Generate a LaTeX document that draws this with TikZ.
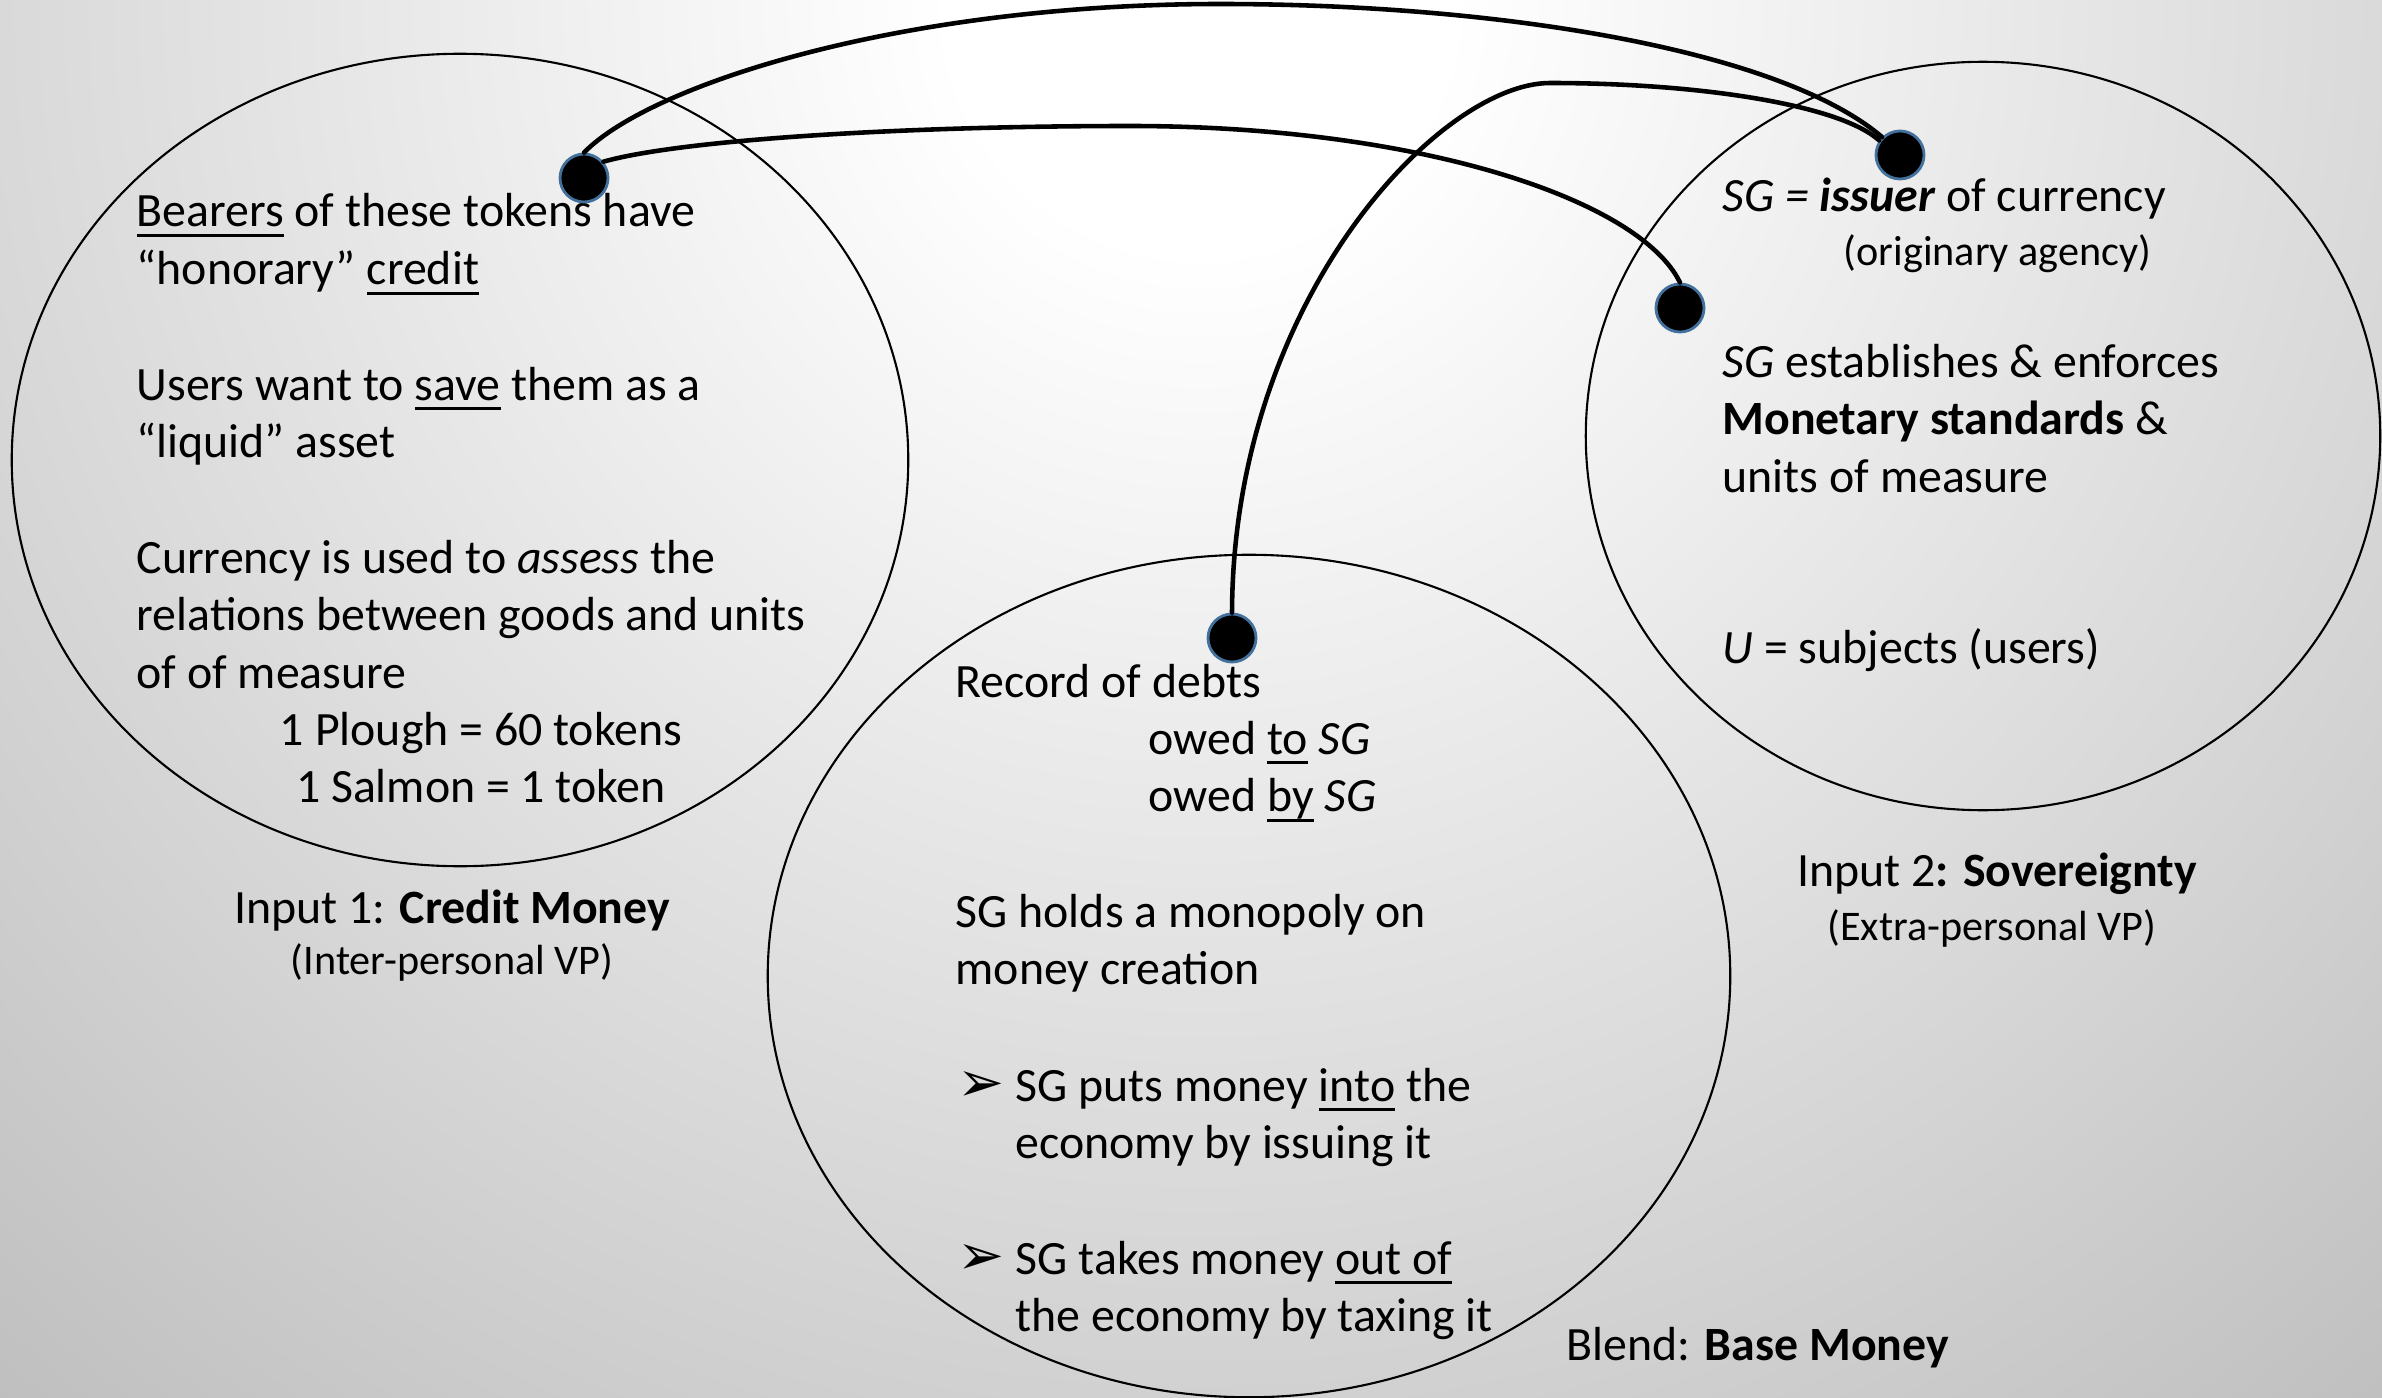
\documentclass[tikz,border=0pt]{standalone}
\usepackage{fontspec}
\setmainfont{Carlito}
\newfontfamily\dingfont{DejaVu Sans}
\usetikzlibrary{shapes.geometric}

\definecolor{dotblue}{HTML}{41719C}
\definecolor{bgedge}{gray}{0.725}
% slide background: white near the top centre, fading to grey outwards
% (25bp corresponds to the radius of the shaded circle)
\pgfdeclareradialshading{slidebg}{\pgfpoint{0bp}{0bp}}{%
  color(0bp)=(white); color(3.125bp)=(white); color(25bp)=(bgedge); color(50bp)=(bgedge)}

% underline at a fixed depth below the baseline
\newsavebox\ulbox
\newcommand\undl[1]{\sbox\ulbox{#1}\rlap{\rule[-2.9pt]{\wd\ulbox}{0.85pt}}\usebox\ulbox}
% a stack of lines whose baseline is that of the first line
\newcommand\txtline[1]{\hbox{#1}}
\newcommand\linesbox[1]{\vtop{\baselineskip=16.4pt\lineskiplimit=-20pt\lineskip=0pt #1}}
\newcommand\arrowbullet{{\dingfont\fontsize{16}{18}\selectfont ➢}}

\tikzset{
  bubble/.style={draw, ellipse, line width=0.6pt, inner sep=0pt},
  joint/.style={circle, fill=black, draw=dotblue, line width=0.8pt,
                minimum size=0.48cm, inner sep=0pt},
  link/.style={line width=1.3pt, line cap=round},
  body/.style={anchor=base west, inner sep=0pt,
               font=\fontsize{13.6}{16.4}\selectfont},
  caption/.style={anchor=base, inner sep=0pt,
                  font=\fontsize{13.6}{16.4}\selectfont},
  note/.style={anchor=base, inner sep=0pt,
               font=\fontsize{12}{14.4}\selectfont},
}

\begin{document}
\begin{tikzpicture}[x=0.01cm, y=-0.01cm]
\useasboundingbox (0,0) rectangle (2382,1397);
\begin{scope}
  \clip (0,0) rectangle (2382,1397);
  \shade[shading=slidebg] (1200,0) circle[radius=20cm];
\end{scope}

% the three mental spaces
\node[bubble, minimum width=8.96cm, minimum height=8.12cm] (credit) at (460,460) {};
\node[bubble, minimum width=7.94cm, minimum height=7.48cm] (sovereign) at (1983,436) {};
\node[bubble, minimum width=9.62cm, minimum height=8.42cm] (blend) at (1249,976) {};

% Input 1: credit money
\node[body] (creditText) at (136,227) {\linesbox{%
  \txtline{\undl{Bearers} of these tokens have}
  \txtline{“honorary” \undl{credit}}
  \txtline{}
  \txtline{Users want to \undl{save} them as a}
  \txtline{“liquid” asset}
  \txtline{}
  \txtline{Currency is used to \textit{assess} the}
  \txtline{relations between goods and units}
  \txtline{of of measure}}};
\node[caption] (plough) at (481,745) {1 Plough = 60 tokens};
\node[caption] (salmon) at (481,802) {1 Salmon = 1 token};
\node[caption] (input1) at (452,923) {Input 1: \textbf{Credit Money}};
\node[note] (input1sub) at (452,974) {(Inter-personal VP)};

% Input 2: sovereignty
\node[body] (issuer) at (1722,212) {\textit{SG =} \textbf{\textit{issuer}} of currency};
\node[note, anchor=base west] (agency) at (1843,265) {(originary agency)};
\node[body] (standards) at (1722,377) {\linesbox{%
  \txtline{\textit{SG} establishes \& enforces}
  \txtline{\textbf{Monetary standards} \&}
  \txtline{units of measure}}};
\node[body] (users) at (1722,663) {\textit{U} = subjects (users)};
\node[caption] (input2) at (1997,886) {Input 2\textbf{: Sovereignty}};
\node[note] (input2sub) at (1992,940) {(Extra-personal VP)};

% Blend: base money
\node[body] (debts) at (955,697) {Record of debts};
\node[body] (owed) at (1148,754) {\linesbox{%
  \txtline{owed \undl{to} \textit{SG}}
  \txtline{owed \undl{by} \textit{SG}}}};
\node[body] (monopoly) at (955,927) {\linesbox{%
  \txtline{SG holds a monopoly on}
  \txtline{money creation}}};
\node[body] (bulletIn) at (957,1101) {\arrowbullet};
\node[body] (issuing) at (1015,1101) {\linesbox{%
  \txtline{SG puts money \undl{into} the}
  \txtline{economy by issuing it}}};
\node[body] (bulletOut) at (957,1274) {\arrowbullet};
\node[body] (taxing) at (1015,1274) {\linesbox{%
  \txtline{SG takes money \undl{out of}}
  \txtline{the economy by taxing it}}};
\node[body] (blendLabel) at (1566,1360) {Blend: \textbf{Base Money}};

% cross-space mappings
\node[joint] (dCredit) at (584,178) {};
\node[joint] (dIssuer) at (1900,155) {};
\node[joint] (dStandards) at (1680,308) {};
\node[joint] (dDebts) at (1232,638) {};

\draw[link] (dCredit.north) .. controls (650,85) and (900,4) .. (1220,4)
  .. controls (1500,4) and (1780,50) .. (dIssuer.135);
\draw[link] (dCredit.40) .. controls (680,140) and (900,126) .. (1130,126)
  .. controls (1420,126) and (1640,200) .. (dStandards.north);
\draw[link] (dDebts.north) .. controls (1233,300) and (1440,83) .. (1550,83)
  .. controls (1700,83) and (1840,105) .. (dIssuer.145);
\end{tikzpicture}
\end{document}
